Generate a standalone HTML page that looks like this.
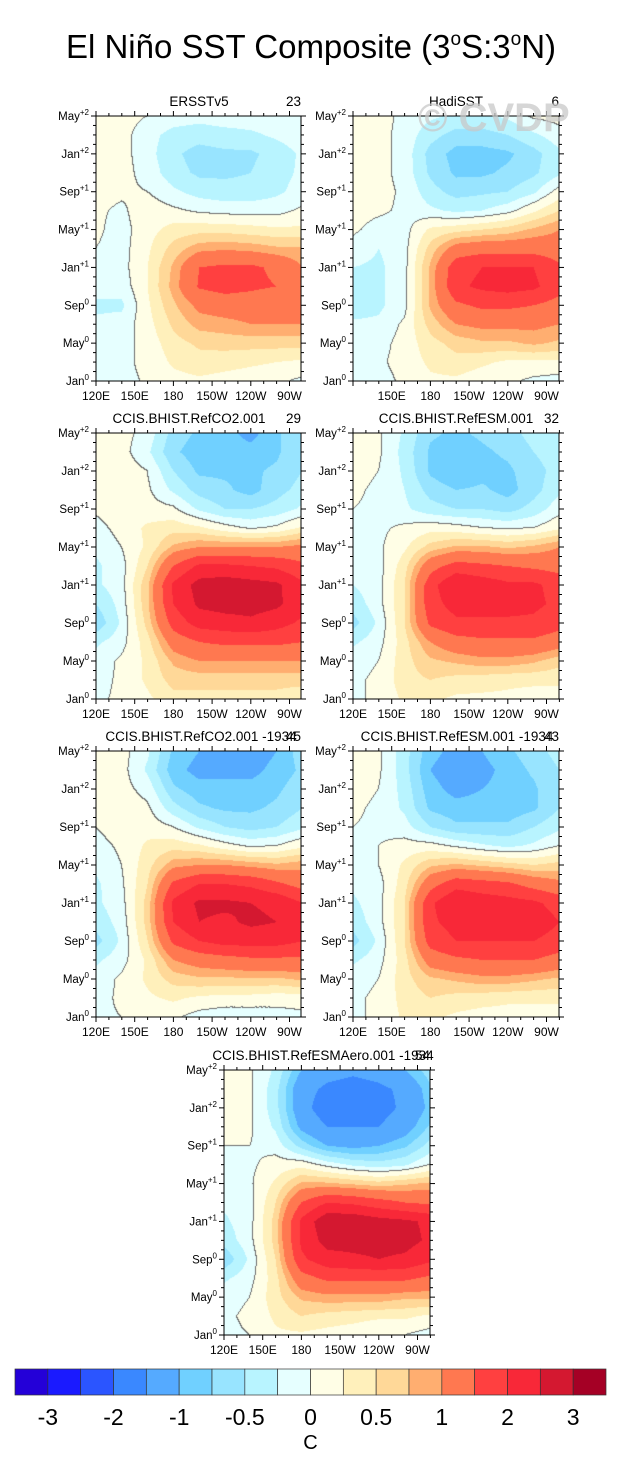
<!DOCTYPE html>
<html><head><meta charset="utf-8">
<style>
html,body{margin:0;padding:0;background:#fff;}
#wrap{position:relative;width:622px;height:1477px;overflow:hidden;font-family:"Liberation Sans",sans-serif;}
canvas{position:absolute;}
svg{position:absolute;left:0;top:0;}
</style></head>
<body>
<div id="wrap">
<svg id="ov" width="622" height="1477">
  <text x="311" y="58" text-anchor="middle" font-size="33" font-family="Liberation Sans, sans-serif">El Niño SST Composite (3<tspan font-size="19" dy="-13">o</tspan><tspan dy="13">S:3</tspan><tspan font-size="19" dy="-13">o</tspan><tspan dy="13">N)</tspan></text>
</svg>
</div>
<script>
// ---- data: rows top-down (May+2 ... Jan0, every 2 months), columns lon 120E..80W every 20deg
const LONS=[120,140,160,180,200,220,240,260,280];
const MONTHS=[28,26,24,22,20,18,16,14,12,10,8,6,4,2,0];
const LEVELS=[-3,-2.5,-2,-1.5,-1,-0.75,-0.5,-0.25,0,0.25,0.5,0.75,1,1.5,2,2.5,3];
const LEVEL_LABELS=["-3","-2","-1","-0.5","0","0.5","1","2","3"];
const LABEL_LEVEL_IDX=[0,2,4,6,8,10,12,14,16];
const COLORS=["#2400d8","#1a1aff","#2b55ff","#3a88ff","#55aaff","#70d0ff","#98e4ff","#b8f4ff","#e6ffff","#fffee6","#fff0bb","#ffd898","#ffae70","#ff7850","#ff4040","#f82838","#d41830","#a50025"];
const YTICK_MONTHS=[0,4,8,12,16,20,24,28];
const YTICK_NAMES=["Jan","May","Sep","Jan","May","Sep","Jan","May"];
const YTICK_SUPS=["0","0","0","+1","+1","+1","+2","+2"];
const XTICK_LONS=[120,150,180,210,240,270];
const XTICK_NAMES=["120E","150E","180","150W","120W","90W"];

const ersst=[
[0.15,0.1,0.0,-0.1,-0.15,-0.1,-0.1,-0.1,-0.05],
[0.15,0.1,-0.15,-0.35,-0.4,-0.35,-0.3,-0.2,-0.1],
[0.15,0.1,-0.15,-0.45,-0.6,-0.55,-0.55,-0.4,-0.2],
[0.15,0.1,-0.1,-0.4,-0.55,-0.55,-0.5,-0.35,-0.2],
[0.1,0.05,0.0,-0.2,-0.35,-0.4,-0.4,-0.3,-0.15],
[0.05,-0.05,0.15,0.05,-0.05,-0.1,-0.1,-0.1,0.05],
[0.05,-0.1,0.15,0.35,0.4,0.4,0.35,0.3,0.3],
[0.0,-0.1,0.2,0.6,0.9,0.95,0.9,0.8,0.8],
[-0.05,-0.1,0.25,0.8,1.5,1.6,1.6,1.4,1.0],
[-0.15,-0.15,0.25,0.85,1.55,1.7,1.6,1.5,1.1],
[-0.3,-0.3,0.2,0.7,1.1,1.2,1.2,1.1,1.0],
[-0.2,-0.15,0.15,0.55,0.85,0.9,1.0,1.0,1.0],
[-0.1,-0.1,0.1,0.4,0.55,0.6,0.6,0.6,0.6],
[-0.05,-0.05,0.05,0.3,0.4,0.35,0.3,0.25,0.2],
[-0.05,-0.05,0.02,0.15,0.2,0.15,0.1,0.05,-0.05]];
const hadisst=[
[0.1,0.15,-0.1,-0.2,-0.3,-0.3,-0.2,0.05,0.1],
[0.2,0.1,-0.1,-0.4,-0.6,-0.6,-0.5,-0.3,-0.1],
[0.15,0.1,-0.1,-0.6,-0.85,-0.85,-0.8,-0.6,-0.3],
[0.2,0.1,-0.1,-0.55,-0.8,-0.8,-0.7,-0.55,-0.3],
[0.25,0.1,-0.05,-0.4,-0.6,-0.55,-0.5,-0.3,0.1],
[0.1,0.05,-0.05,-0.2,-0.3,-0.25,-0.1,0.2,0.5],
[0.05,-0.1,-0.1,0.3,0.4,0.5,0.6,0.8,1.0],
[-0.1,-0.25,-0.1,0.6,1.2,1.3,1.3,1.3,1.2],
[-0.25,-0.3,-0.1,0.8,1.8,2.0,2.0,2.0,1.6],
[-0.3,-0.3,-0.1,0.8,1.9,2.1,2.2,2.1,1.7],
[-0.4,-0.3,-0.1,0.8,1.4,1.6,1.6,1.5,1.3],
[-0.2,-0.2,0.05,0.6,1.0,1.1,1.1,1.1,1.0],
[-0.1,-0.1,0.1,0.4,0.6,0.7,0.7,0.8,0.7],
[-0.1,-0.05,0.1,0.3,0.4,0.3,0.2,0.2,0.2],
[-0.1,-0.1,0.05,0.2,0.2,0.1,0.05,-0.05,-0.1]];
const refco2=[
[0.2,0.1,-0.1,-0.6,-0.8,-0.9,-1.1,-0.8,-0.5],
[0.2,0.1,-0.2,-0.7,-0.9,-0.9,-0.9,-0.8,-0.5],
[0.2,0.15,0.0,-0.5,-0.8,-0.8,-0.8,-0.7,-0.5],
[0.1,0.15,0.05,-0.3,-0.6,-0.7,-0.85,-0.6,-0.4],
[0.05,0.2,0.1,0.05,-0.3,-0.5,-0.5,-0.4,-0.2],
[-0.1,0.1,0.3,0.4,0.3,0.1,-0.05,0.05,0.3],
[-0.2,0.0,0.3,0.8,1.0,1.0,1.0,1.0,1.1],
[-0.3,-0.1,0.5,1.5,2.1,2.1,2.0,1.9,1.6],
[-0.3,-0.1,0.7,2.1,2.7,2.8,2.7,2.6,2.1],
[-0.5,-0.15,0.7,2.0,2.6,2.7,2.7,2.6,2.2],
[-0.7,-0.2,0.6,1.7,2.2,2.3,2.4,2.2,1.9],
[-0.3,-0.1,0.4,1.2,1.5,1.6,1.6,1.6,1.5],
[-0.15,0.05,0.3,0.8,1.0,1.0,1.0,1.0,1.0],
[-0.1,0.05,0.3,0.6,0.6,0.6,0.6,0.6,0.6],
[-0.05,0.05,0.2,0.4,0.4,0.4,0.4,0.4,0.3]];
const refesm=[
[0.15,0.05,-0.3,-0.7,-0.8,-0.7,-0.6,-0.4,-0.3],
[0.15,0.05,-0.35,-0.8,-0.9,-0.8,-0.7,-0.5,-0.35],
[0.1,0.0,-0.3,-0.8,-1.0,-0.85,-0.8,-0.6,-0.4],
[0.05,-0.05,-0.25,-0.6,-0.75,-0.7,-0.85,-0.6,-0.3],
[0.0,-0.05,-0.2,-0.4,-0.5,-0.5,-0.6,-0.4,-0.1],
[-0.05,-0.05,0.05,0.15,0.1,0.0,-0.05,0.0,0.2],
[-0.1,-0.05,0.2,0.6,0.8,0.8,0.7,0.8,1.0],
[-0.2,-0.1,0.4,1.3,1.7,1.6,1.5,1.4,1.3],
[-0.25,-0.1,0.5,1.8,2.5,2.3,2.1,2.1,1.8],
[-0.4,-0.1,0.5,1.8,2.2,2.2,2.2,2.1,1.9],
[-0.6,-0.2,0.5,1.6,1.9,1.9,1.9,1.9,1.7],
[-0.3,-0.1,0.4,1.0,1.3,1.4,1.4,1.4,1.2],
[-0.1,0.0,0.4,0.7,0.8,0.9,0.9,0.8,0.6],
[-0.05,0.05,0.4,0.5,0.4,0.35,0.3,0.3,0.3],
[-0.05,0.05,0.3,0.3,0.2,0.2,0.2,0.15,0.15]];
const refco2b=[
[0.2,0.1,-0.2,-0.8,-1.0,-1.1,-1.2,-1.0,-0.6],
[0.2,0.1,-0.3,-0.9,-1.1,-1.1,-1.1,-0.9,-0.7],
[0.15,0.1,-0.1,-0.7,-0.9,-0.9,-0.9,-0.8,-0.6],
[0.05,0.15,0.05,-0.4,-0.7,-0.8,-0.8,-0.7,-0.5],
[0.0,0.15,0.15,0.0,-0.3,-0.5,-0.6,-0.5,-0.3],
[-0.1,0.05,0.3,0.4,0.3,0.1,-0.05,0.0,0.2],
[-0.2,0.0,0.4,0.9,1.0,1.0,0.9,0.8,0.9],
[-0.3,-0.05,0.5,1.6,2.0,2.0,1.9,1.6,1.3],
[-0.3,-0.1,0.6,2.1,2.6,2.6,2.5,2.4,2.0],
[-0.4,-0.15,0.6,2.0,2.5,2.4,2.6,2.5,2.1],
[-0.6,-0.2,0.5,1.6,2.0,2.2,2.2,2.2,2.0],
[-0.3,-0.1,0.3,1.0,1.2,1.3,1.4,1.4,1.4],
[-0.15,0.05,0.3,0.6,0.7,0.7,0.7,0.7,0.8],
[-0.1,0.05,0.2,0.3,0.2,0.15,0.15,0.1,0.1],
[-0.05,0.0,0.1,0.05,-0.1,-0.15,-0.15,-0.1,-0.05]];
const refesmb=[
[0.15,0.05,-0.4,-0.9,-1.1,-1.0,-0.8,-0.6,-0.4],
[0.15,0.05,-0.4,-1.0,-1.2,-1.1,-0.9,-0.7,-0.5],
[0.1,0.0,-0.35,-0.9,-1.1,-1.0,-0.9,-0.8,-0.5],
[0.05,-0.05,-0.3,-0.8,-0.9,-0.9,-0.9,-0.8,-0.5],
[0.0,-0.05,-0.15,-0.5,-0.7,-0.7,-0.7,-0.5,-0.3],
[-0.05,0.0,0.1,0.1,-0.05,-0.2,-0.3,-0.2,0.0],
[-0.1,0.0,0.3,0.7,0.8,0.7,0.6,0.5,0.6],
[-0.2,-0.1,0.4,1.3,1.8,1.7,1.6,1.3,1.1],
[-0.3,-0.1,0.5,1.9,2.5,2.3,2.2,2.1,1.8],
[-0.4,-0.1,0.5,1.9,2.2,2.2,2.2,2.3,2.0],
[-0.6,-0.2,0.5,1.7,2.0,2.0,2.0,2.0,1.8],
[-0.3,-0.1,0.4,1.2,1.4,1.5,1.5,1.5,1.3],
[-0.1,0.0,0.4,0.7,0.8,0.9,0.9,0.8,0.7],
[-0.05,0.05,0.35,0.5,0.4,0.35,0.3,0.3,0.3],
[-0.05,0.05,0.3,0.3,0.2,0.15,0.15,0.15,0.15]];
const refesmaero=[
[0.15,0.05,-0.3,-1.0,-1.3,-1.4,-1.3,-1.0,-0.6],
[0.15,0.05,-0.4,-1.3,-1.6,-1.7,-1.6,-1.4,-0.8],
[0.1,0.05,-0.4,-1.3,-1.8,-1.8,-1.7,-1.4,-0.9],
[0.05,0.05,-0.3,-1.1,-1.5,-1.5,-1.5,-1.2,-0.7],
[0.0,0.0,-0.1,-0.6,-1.0,-1.1,-1.0,-0.8,-0.4],
[-0.05,-0.05,0.1,0.15,-0.1,-0.3,-0.4,-0.3,0.0],
[-0.1,-0.05,0.3,0.8,0.8,0.7,0.6,0.7,0.8],
[-0.2,-0.1,0.5,1.5,2.0,1.9,1.7,1.5,1.4],
[-0.3,-0.1,0.6,2.1,2.9,2.9,2.7,2.6,2.4],
[-0.4,-0.1,0.6,2.1,2.7,2.7,2.7,2.7,2.4],
[-0.7,-0.2,0.5,1.9,2.3,2.4,2.5,2.4,2.1],
[-0.3,-0.1,0.4,1.3,1.6,1.6,1.6,1.6,1.4],
[-0.1,0.0,0.4,0.8,0.9,0.9,0.9,0.8,0.8],
[-0.05,0.05,0.3,0.5,0.4,0.35,0.3,0.3,0.2],
[-0.05,0.0,0.2,0.2,0.15,0.1,0.0,0.0,-0.1]];

const PANELS=[
 {key:"ersst",title:"ERSSTv5",right:"23",data:ersst,x:96,y:116,w:205,h:265,tx:199,first:true},
 {key:"hadisst",title:"HadiSST",right:"6",data:hadisst,x:353,y:116,w:206,h:265,tx:456,first:false,wm:true},
 {key:"refco2",title:"CCIS.BHIST.RefCO2.001",right:"29",data:refco2,x:96,y:433,w:205,h:266,tx:189,first:true},
 {key:"refesm",title:"CCIS.BHIST.RefESM.001",right:"32",data:refesm,x:353,y:433,w:206,h:266,tx:456,first:true},
 {key:"refco2-1934",title:"CCIS.BHIST.RefCO2.001 -1934",right:"45",data:refco2b,x:96,y:751,w:205,h:266,tx:201,first:true},
 {key:"refesm-1934",title:"CCIS.BHIST.RefESM.001 -1934",right:"43",data:refesmb,x:353,y:751,w:206,h:266,tx:457,first:true},
 {key:"refesmaero-1934",title:"CCIS.BHIST.RefESMAero.001 -1934",right:"54",data:refesmaero,x:224,y:1070,w:206,h:265,tx:323,first:true}
];

const NS="http://www.w3.org/2000/svg";
const wrap=document.getElementById('wrap');
const ov=document.getElementById('ov');
const PXPERDEG=38.7/30;
function levelIndex(v){let i=0;while(i<LEVELS.length&&v>=LEVELS[i])i++;return i;}
function hex(c){return [parseInt(c.substr(1,2),16),parseInt(c.substr(3,2),16),parseInt(c.substr(5,2),16)];}
const RGB=COLORS.map(hex);
function sample(data,lon,mon){
  let c=(lon-LONS[0])/(LONS[1]-LONS[0]);
  let r=(MONTHS[0]-mon)/(MONTHS[0]-MONTHS[1]);
  c=Math.max(0,Math.min(LONS.length-1.0001,c));
  r=Math.max(0,Math.min(MONTHS.length-1.0001,r));
  const c0=Math.floor(c),r0=Math.floor(r),fc=c-c0,fr=r-r0;
  const a=data[r0][c0],b=data[r0][c0+1],d=data[r0+1][c0],e=data[r0+1][c0+1];
  return a*(1-fc)*(1-fr)+b*fc*(1-fr)+d*(1-fc)*fr+e*fc*fr;
}
function mk(tag,attrs,parent){const el=document.createElementNS(NS,tag);for(const k in attrs)el.setAttribute(k,attrs[k]);(parent||ov).appendChild(el);return el;}

PANELS.forEach(p=>{
  const cv=document.createElement('canvas');
  cv.width=p.w;cv.height=p.h;
  cv.style.left=p.x+'px';cv.style.top=p.y+'px';
  
  
  wrap.insertBefore(cv,ov);
  const ctx=cv.getContext('2d');
  const img=ctx.createImageData(p.w,p.h);
  const vals=new Float32Array(p.w*p.h);
  const xScale=px=>LONS[0]+(px+0.5)/PXPERDEG;
  const tScale=py=>28*(1-(py+0.5)/p.h);
  for(let j=0;j<p.h;j++)for(let i=0;i<p.w;i++)vals[j*p.w+i]=sample(p.data,xScale(i),tScale(j));
  for(let j=0;j<p.h;j++)for(let i=0;i<p.w;i++){
    const v=vals[j*p.w+i];let col=RGB[levelIndex(v)];
    const s=v>=0;
    let edge=false;
    if(i+1<p.w&&((vals[j*p.w+i+1]>=0)!==s))edge=true;
    if(j+1<p.h&&((vals[(j+1)*p.w+i]>=0)!==s))edge=true;
    if(edge)col=[110,110,110];
    const o=(j*p.w+i)*4;img.data[o]=col[0];img.data[o+1]=col[1];img.data[o+2]=col[2];img.data[o+3]=255;
  }
  ctx.putImageData(img,0,0);

  const g=mk('g',{});
  
  
  const fr=mk('rect',{x:p.x,y:p.y,width:p.w,height:p.h,fill:'none',stroke:'#000','stroke-width':1},g);
  
  
  const yS=m=>p.y+p.h*(1-m/28);
  const xS=l=>p.x+(l-LONS[0])*PXPERDEG;
  for(let m=0;m<=28;m++){
    const len=(m%4===0)?5:3;
    mk('line',{x1:p.x-len,x2:p.x,y1:yS(m),y2:yS(m),stroke:'#000'},g);
    mk('line',{x1:p.x+p.w,x2:p.x+p.w+len,y1:yS(m),y2:yS(m),stroke:'#000'},g);
  }
  for(let l=120;l<=280;l+=10){
    const X=xS(l);if(X>p.x+p.w+0.5)continue;
    const len=(l%30===0)?5:3;
    mk('line',{x1:X,x2:X,y1:p.y+p.h,y2:p.y+p.h+len,stroke:'#000'},g);
    mk('line',{x1:X,x2:X,y1:p.y-len,y2:p.y,stroke:'#000'},g);
  }
  YTICK_MONTHS.forEach((m,k)=>{
    const t=mk('text',{x:p.x-7,y:yS(m)+4,'text-anchor':'end','font-size':11.5},g);
    
    
    t.textContent=YTICK_NAMES[k];
    const s=mk('tspan',{'font-size':8,dy:-5},t);s.textContent=YTICK_SUPS[k];
  });
  XTICK_LONS.forEach((l,k)=>{
    if(k===0&&!p.first)return;
    const t=mk('text',{x:xS(l),y:p.y+p.h+19,'text-anchor':'middle','font-size':12},g);
    
    
    t.textContent=XTICK_NAMES[k];
  });
  const tt=mk('text',{x:p.tx,y:p.y-10,'text-anchor':'middle','font-size':13.5},g);
  
  
  tt.textContent=p.title;
  const rt=mk('text',{x:p.x+p.w,y:p.y-10,'text-anchor':'end','font-size':13.5},g);
  
  
  rt.textContent=p.right;
  if(p.wm){
    const w=mk('text',{x:418,y:131,'font-size':40,'font-weight':'bold',fill:'#c8c8c8','fill-opacity':0.75},g);
    
    
    w.textContent='© CVDP';
  }
});

// colorbar
(function(){
  const x0=15,x1=606,y0=1369,h=26;
  const bw=(x1-x0)/COLORS.length;
  const g=mk('g',{});
  
  
  COLORS.forEach((c,i)=>{
    const r=mk('rect',{x:x0+i*bw,y:y0,width:bw,height:h,fill:c,stroke:'#333','stroke-width':0.7},g);
    
    
  });
  LEVEL_LABELS.forEach((lab,k)=>{
    const X=x0+(LABEL_LEVEL_IDX[k]+1)*bw;
    const t=mk('text',{x:X,y:1425,'text-anchor':'middle','font-size':23},g);
    
    
    t.textContent=lab;
  });
  const c=mk('text',{x:x0+9*bw,y:1449,'text-anchor':'middle','font-size':20},g);
  
  
  c.textContent='C';
})();
</script>
</body></html>
